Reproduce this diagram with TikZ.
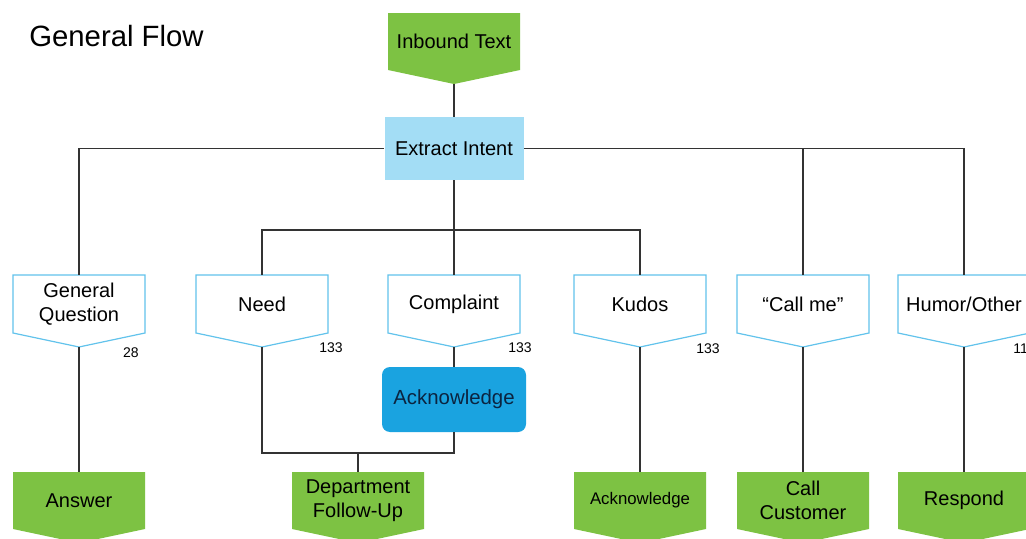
\documentclass[tikz,border=0pt]{standalone}
\usepackage{fontspec}
\setmainfont{Liberation Sans}
\usetikzlibrary{calc}
\definecolor{grn}{HTML}{7DC243}
\definecolor{lblue}{HTML}{A3DDF5}
\definecolor{bord}{HTML}{62C3EC}
\definecolor{ackblue}{HTML}{1AA3E0}
\definecolor{ln}{HTML}{333333}
\definecolor{navy}{HTML}{0B2440}
% name, cx, top, body height, shape style, text style, text
\newcommand\pent[7]{%
  \path[#5] ({#2-66},{#3}) -- ({#2+66},{#3}) -- ({#2+66},{#3+#4}) -- ({#2},{#3+#4+14}) -- ({#2-66},{#3+#4}) -- cycle;
  \node[#6, minimum width=99pt, minimum height={#4*0.75pt}] (#1) at ({#2},{#3+#4/2}) {#7};
  \coordinate (#1-tip) at ({#2},{#3+#4+14});}
\tikzset{
  greenshape/.style={fill=grn},
  intentshape/.style={fill=white, draw=bord, line width=0.9pt},
  txt/.style={inner sep=0pt, align=center, text=black, font=\fontsize{15}{18}\selectfont},
  smalltxt/.style={txt, font=\fontsize{12.6}{15}\selectfont},
  num/.style={inner sep=0pt, font=\fontsize{10.5}{12}\selectfont},
  conn/.style={draw=ln, line width=1.3pt},
}
\begin{document}
\begin{tikzpicture}[x=0.75pt, y=-0.75pt]
\useasboundingbox (0,0) rectangle (1026,539);
\clip (0,0) rectangle (1026,539);
\fill[white] (0,0) rectangle (1026,539);

\node[anchor=west, inner sep=0pt, font=\fontsize{22}{26}\selectfont] (title) at (29,36) {General Flow};

% top
\pent{inb}{454}{13}{57}{greenshape}{txt}{Inbound Text}
\node[fill=lblue, minimum width=104.25pt, minimum height=47.25pt, txt] (ext) at (454,148.5) {Extract Intent};

% intents
\pent{gq}{79}{275}{58}{intentshape}{txt}{General\\Question}
\pent{need}{262}{275}{58}{intentshape}{txt}{Need}
\pent{comp}{454}{275}{58}{intentshape}{txt}{Complaint}
\pent{kudos}{640}{275}{58}{intentshape}{txt}{Kudos}
\pent{call}{803}{275}{58}{intentshape}{txt}{“Call me”}
\pent{hum}{964}{275}{58}{intentshape}{txt}{Humor/Other}

% counts
\node[num] (n1) at (131,353) {28};
\node[num] (n2) at (331,348) {133};
\node[num] (n3) at (520,348) {133};
\node[num] (n4) at (708,349) {133};
\node[num, anchor=west] (n5) at (1013,349) {11};

% acknowledge (complaint)
\node[fill=ackblue, rounded corners=6pt, minimum width=108pt, minimum height=48.75pt, inner sep=0pt, text=navy, font=\fontsize{15.3}{18}\selectfont] (ack) at (454,399.5) {Acknowledge};

% results
\pent{ans}{79}{472}{57}{greenshape}{txt}{Answer}
\pent{dep}{358}{472}{57}{greenshape}{txt}{Department\\Follow-Up}
\pent{ack2}{640}{472}{57}{greenshape}{smalltxt}{Acknowledge}
\pent{cc}{803}{472}{57}{greenshape}{txt}{Call\\Customer}
\pent{resp}{964}{472}{57}{greenshape}{txt}{Respond}

% connectors
\coordinate (j1) at (454,230);
\coordinate (j2) at (358,453);
\draw[conn] (inb-tip) -- (ext.north);
\draw[conn] (ext.west) -| (gq.north);
\draw[conn] (ext.east) -| (call.north);
\draw[conn] (ext.east) -| (hum.north);
\draw[conn] (ext.south) -- (j1);
\draw[conn] (j1) -| (need.north);
\draw[conn] (j1) -| (kudos.north);
\draw[conn] (j1) -- (comp.north);
\draw[conn] (comp-tip) -- (ack.north);
\draw[conn] (need-tip) |- (j2);
\draw[conn] (ack.south) |- (j2);
\draw[conn] (j2) -- (dep.north);
\draw[conn] (gq-tip) -- (ans.north);
\draw[conn] (kudos-tip) -- (ack2.north);
\draw[conn] (call-tip) -- (cc.north);
\draw[conn] (hum-tip) -- (resp.north);
\end{tikzpicture}
\end{document}
